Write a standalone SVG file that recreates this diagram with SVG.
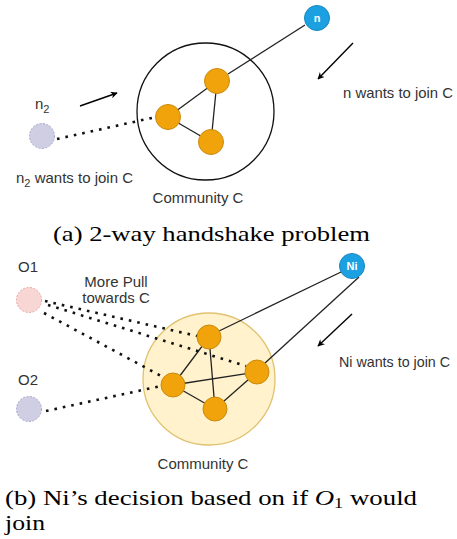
<svg xmlns="http://www.w3.org/2000/svg" width="457" height="539" viewBox="0 0 457 539">
<defs>
<marker id="ah" viewBox="0 0 10 10" refX="9" refY="5" markerWidth="7" markerHeight="7" markerUnits="userSpaceOnUse" orient="auto">
<path d="M0,0 L10,5 L0,10 L3,5 Z" fill="#000"/>
</marker>
<style>
.lbl{font-family:"Liberation Sans",Arial,sans-serif;font-size:15px;fill:#333}
.cap{font-family:"Liberation Serif","Times New Roman",serif;font-size:22px;fill:#000}
.org{fill:#f0a30a;stroke:#c98b10;stroke-width:1}
.blue{fill:#1ba1e2;stroke:#1585c0;stroke-width:1}
.ntxt{font-family:"Liberation Sans",Arial,sans-serif;font-size:11px;font-weight:bold;fill:#fff;text-anchor:middle}
.edge{stroke:#222;stroke-width:1.3;fill:none}
.dot{stroke:#111;stroke-width:2.6;stroke-dasharray:2.6 6;fill:none}
.arr{stroke:#000;stroke-width:1.4;fill:none;marker-end:url(#ah)}
.lav{fill:#d0cee2;stroke:#a9a6cf;stroke-width:1;stroke-dasharray:2 1.5}
.pink{fill:#f8d6d4;stroke:#e4a6a4;stroke-width:1;stroke-dasharray:2 1.5}
</style>
</defs>

<!-- (a) -->
<g id="communityA">
<circle cx="205.5" cy="111.5" r="68.5" fill="none" stroke="#111" stroke-width="1.3"/>
</g>
<g id="connectors-a">
<line class="edge" x1="305" y1="25" x2="228" y2="74"/>
<line class="edge" x1="217" y1="81" x2="168" y2="117"/>
<line class="edge" x1="217" y1="81" x2="211" y2="142"/>
<line class="edge" x1="168" y1="117" x2="211" y2="142"/>
<line class="dot" x1="57" y1="139" x2="156" y2="117"/>
<line class="arr" x1="80" y1="106" x2="117" y2="93"/>
<line class="arr" x1="353" y1="43" x2="318" y2="79"/>
</g>
<g id="node-n">
<circle class="blue" cx="317" cy="18" r="12.5"/>
<text class="ntxt" x="317" y="22">n</text>
</g>
<g id="a1"><circle class="org" cx="217" cy="81" r="12.5"/></g>
<g id="a2"><circle class="org" cx="168" cy="117" r="12.5"/></g>
<g id="a3"><circle class="org" cx="211" cy="142" r="12.5"/></g>
<g id="node-n2"><circle class="lav" cx="42" cy="136" r="12.5"/></g>
<text class="lbl" x="35" y="109">n<tspan font-size="11" dy="4">2</tspan></text>
<text class="lbl" x="343" y="98" textLength="110" lengthAdjust="spacingAndGlyphs">n wants to join C</text>
<text class="lbl" x="16" y="183">n<tspan font-size="11" dy="4">2</tspan><tspan dy="-4"> wants to join C</tspan></text>
<text class="lbl" x="198" y="203" text-anchor="middle">Community C</text>
<text class="cap" x="53" y="241" textLength="317" lengthAdjust="spacingAndGlyphs">(a) 2-way handshake problem</text>

<!-- (b) -->
<g id="communityB">
<circle cx="209" cy="379" r="66" fill="#fff2cc" stroke="#e0c270" stroke-width="1.3"/>
</g>
<g id="connectors-b">
<line class="edge" x1="341" y1="272" x2="219" y2="331"/>
<line class="edge" x1="359" y1="277" x2="265" y2="363"/>
<line class="edge" x1="209" y1="337" x2="173" y2="385"/>
<line class="edge" x1="209" y1="337" x2="215" y2="409"/>
<line class="edge" x1="173" y1="385" x2="257" y2="372"/>
<line class="edge" x1="173" y1="385" x2="215" y2="409"/>
<line class="edge" x1="215" y1="409" x2="257" y2="372"/>
<line class="dot" x1="45" y1="301" x2="197" y2="336"/>
<line class="dot" x1="48" y1="305" x2="246" y2="366"/>
<line class="dot" x1="44" y1="313" x2="163" y2="377"/>
<line class="dot" x1="46" y1="411" x2="161" y2="386"/>
<line class="arr" x1="352" y1="314" x2="318" y2="346"/>
</g>
<g id="node-ni">
<circle class="blue" cx="352" cy="266" r="12.5"/>
<text class="ntxt" x="352" y="270">Ni</text>
</g>
<g id="b1"><circle class="org" cx="209" cy="337" r="12"/></g>
<g id="b2"><circle class="org" cx="257" cy="372" r="12"/></g>
<g id="b3"><circle class="org" cx="173" cy="385" r="12"/></g>
<g id="b4"><circle class="org" cx="215" cy="409" r="12"/></g>
<g id="node-o1"><circle class="pink" cx="29" cy="300" r="12.5"/></g>
<g id="node-o2"><circle class="lav" cx="29" cy="409" r="12.5"/></g>
<text class="lbl" x="18" y="272">O1</text>
<text class="lbl" x="18" y="385">O2</text>
<text class="lbl" x="116" y="287" text-anchor="middle">More Pull</text>
<text class="lbl" x="116" y="303" text-anchor="middle">towards C</text>
<text class="lbl" x="339" y="367" textLength="111" lengthAdjust="spacingAndGlyphs">Ni wants to join C</text>
<text class="lbl" x="203" y="469" text-anchor="middle">Community C</text>
<text class="cap" x="5" y="505" textLength="412" lengthAdjust="spacingAndGlyphs">(b) Ni’s decision based on if <tspan font-style="italic">O</tspan><tspan font-size="15" dy="3">1</tspan><tspan dy="-3"> would</tspan></text>
<text class="cap" x="5" y="530" textLength="40" lengthAdjust="spacingAndGlyphs">join</text>
</svg>
